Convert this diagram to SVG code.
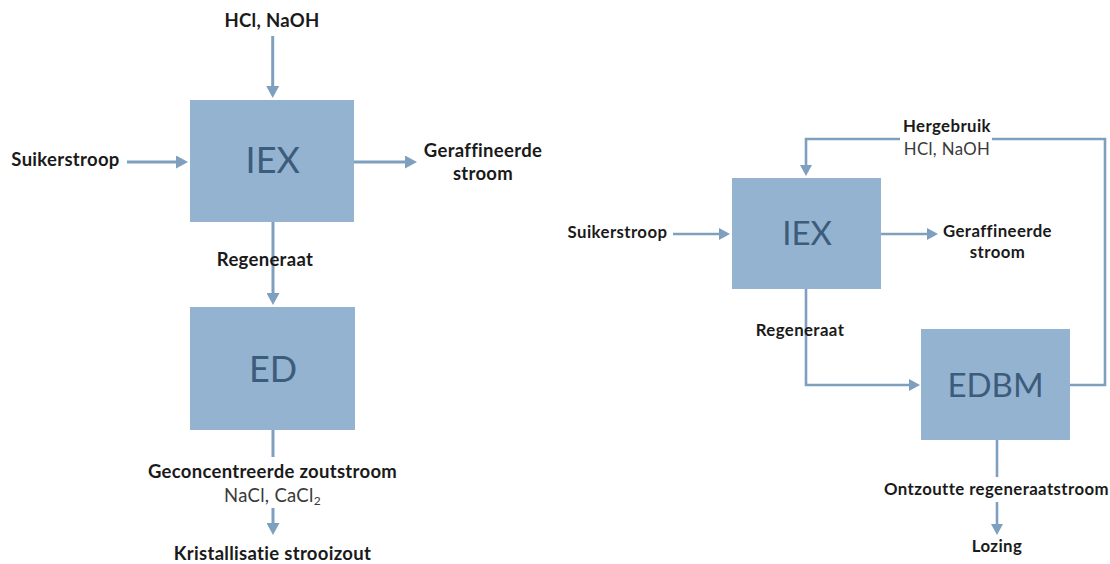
<svg xmlns="http://www.w3.org/2000/svg" width="1110" height="564" viewBox="0 0 1110 564">
  <style>
    .box { fill: #93b3d1; }
    .big { font-family: Lato, "Liberation Sans", sans-serif; fill: #3d5c7c; text-anchor: middle; }
    .lbl { font-family: Lato, "Liberation Sans", sans-serif; font-weight: bold; fill: #1a1a1a; text-anchor: middle; }
    .sub { font-family: Lato, "Liberation Sans", sans-serif; fill: #3a3a3a; text-anchor: middle; }
    .flow { fill: none; stroke: #7f9fbf; stroke-width: 3; }
    .flow2 { fill: none; stroke: #7f9fbf; stroke-width: 2.6; }
    .L { font-size: 18.5px; letter-spacing: 0.3px; }
    .R { font-size: 16.8px; letter-spacing: 0.4px; }
  </style>
  <defs>
    <marker id="arr" markerUnits="userSpaceOnUse" viewBox="0 0 12 13" refX="0.5" refY="6.5" markerWidth="12" markerHeight="13" orient="auto">
      <path d="M0,0 L12,6.5 L0,13 z" fill="#7f9fbf"/>
    </marker>
    <marker id="arr2" markerUnits="userSpaceOnUse" viewBox="0 0 11 12" refX="0.5" refY="6" markerWidth="11" markerHeight="12" orient="auto">
      <path d="M0,0 L11,6 L0,12 z" fill="#7f9fbf"/>
    </marker>
  </defs>

  <!-- connectors -->
  <g id="connectors">
    <!-- left process -->
    <line class="flow" x1="272.7" y1="36" x2="272.7" y2="86.5" marker-end="url(#arr)"/>
    <line class="flow" x1="127" y1="162" x2="176.5" y2="162" marker-end="url(#arr)"/>
    <line class="flow" x1="354" y1="162" x2="405.5" y2="162" marker-end="url(#arr)"/>
    <line class="flow" x1="273" y1="222" x2="273" y2="293.5" marker-end="url(#arr)"/>
    <line class="flow" x1="273" y1="430" x2="273" y2="457"/>
    <line class="flow" x1="273" y1="508" x2="273" y2="523.5" marker-end="url(#arr)"/>
    <!-- right process -->
    <line class="flow2" x1="673" y1="234" x2="719.5" y2="234" marker-end="url(#arr2)"/>
    <line class="flow2" x1="881" y1="234" x2="927.5" y2="234" marker-end="url(#arr2)"/>
    <polyline class="flow2" points="806,289 806,385 909.5,385" marker-end="url(#arr2)"/>
    <polyline class="flow2" points="1070,385 1105,385 1105,139 992,139"/>
    <polyline class="flow2" points="900,139 806,139 806,165.5" marker-end="url(#arr2)"/>
    <line class="flow2" x1="997" y1="440" x2="997" y2="477"/>
    <line class="flow2" x1="997" y1="502" x2="997" y2="524.5" marker-end="url(#arr2)"/>
  </g>

  <!-- left process: IEX + ED -->
  <g id="iex-left">
    <rect class="box" x="190" y="100" width="164" height="122"/>
    <text class="big" x="272.7" y="173" font-size="36">IEX</text>
  </g>
  <g id="ed">
    <rect class="box" x="190" y="307" width="165" height="123"/>
    <text class="big" x="273" y="382" font-size="36">ED</text>
  </g>
  <g id="labels-left">
    <text class="lbl L" x="65.5" y="166">Suikerstroop</text>
    <text class="lbl L" x="272" y="27">HCl, NaOH</text>
    <text class="lbl L" x="483" y="157">Geraffineerde</text>
    <text class="lbl L" x="483" y="180">stroom</text>
    <text class="lbl L" x="265" y="266">Regeneraat</text>
    <text class="lbl L" x="272.5" y="477.5">Geconcentreerde zoutstroom</text>
    <text class="sub L" x="272.5" y="502">NaCl, CaCl<tspan font-size="12" dy="3">2</tspan></text>
    <text class="lbl L" x="272.5" y="560">Kristallisatie strooizout</text>
  </g>

  <!-- right process: IEX + EDBM with acid/base recycle -->
  <g id="iex-right">
    <rect class="box" x="732" y="178" width="149" height="111"/>
    <text class="big" x="807" y="245" font-size="33">IEX</text>
  </g>
  <g id="edbm">
    <rect class="box" x="921" y="329" width="149" height="111"/>
    <text class="big" x="995.5" y="397" font-size="33">EDBM</text>
  </g>
  <g id="labels-right">
    <text class="lbl R" x="947" y="132">Hergebruik</text>
    <text class="sub R" x="947" y="155">HCl, NaOH</text>
    <text class="lbl R" x="617.5" y="238">Suikerstroop</text>
    <text class="lbl R" x="997.5" y="237">Geraffineerde</text>
    <text class="lbl R" x="997.5" y="258">stroom</text>
    <text class="lbl R" x="800" y="336">Regeneraat</text>
    <text class="lbl R" x="996.5" y="495">Ontzoutte regeneraatstroom</text>
    <text class="lbl R" x="997" y="552">Lozing</text>
  </g>
</svg>
